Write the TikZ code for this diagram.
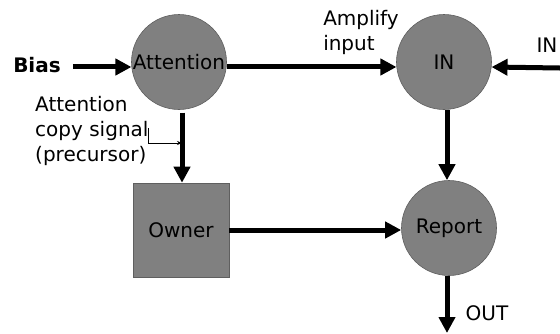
\documentclass[tikz,border=0pt]{standalone}
\usepackage{fontspec}
\setmainfont{DejaVu Sans}
\usetikzlibrary{arrows.meta}
\definecolor{unitfill}{RGB}{128,128,128}
\definecolor{unitedge}{RGB}{95,95,95}
\tikzset{
  unit/.style={circle, fill=unitfill, draw=unitedge, line width=0.6pt,
               minimum size=95pt, inner sep=0pt},
  box/.style={rectangle, fill=unitfill, draw=unitedge, line width=0.6pt,
              minimum width=96pt, minimum height=94pt, inner sep=0pt},
  lbl/.style={inner sep=0pt, align=left},
  arr/.style={line width=5pt, -{Triangle[length=16pt,width=16pt]}},
  thinarr/.style={line width=0.7pt, -{Stealth[length=5pt,width=4pt]}}
}
\begin{document}
\begin{tikzpicture}[x=1pt, y=-1pt, font=\fontsize{20}{25}\selectfont]
  \useasboundingbox (0,0) rectangle (560,333);

  % units
  \node[unit] (att) at (179,62) {Attention};
  \node[unit] (in)  at (444,62) {IN};
  \node[unit] (rep) at (449,228) {Report};
  \node[box]  (own) at (181,230) {Owner};

  % labels
  \node[lbl, font=\fontsize{20}{25}\selectfont\bfseries] (bias) at (37,65) {Bias};
  \node[lbl] (amp) at (361,32) {Amplify\\input};
  \node[lbl, anchor=west] (copy) at (35,131) {Attention\\copy signal\\(precursor)};
  \node[lbl] (inlbl) at (547,45) {IN};
  \node[lbl] (outlbl) at (487,313) {OUT};

  % free ends
  \coordinate (inR) at (560,68);
  \coordinate (out) at (447,333);
  \coordinate (sig) at (148,128);
  \coordinate (tap) at (182,143);

  % connectors
  \draw[arr] ([xshift=12pt]bias.east |- att.186) -- (att.186);
  \draw[arr] (att.-6) -- (in.186);
  \draw[arr] (inR) -- (in.-6);
  \draw[arr] (in.south -| out) -- (rep.north -| out);
  \draw[arr] (own.north -| tap) ++(0,-70) -- (own.north -| tap);
  \draw[arr] (own.east) -- (own.east -| rep.west);
  \draw[arr] (rep.south -| out) -- (out);
  \draw[thinarr] (sig) |- (tap);
\end{tikzpicture}
\end{document}
